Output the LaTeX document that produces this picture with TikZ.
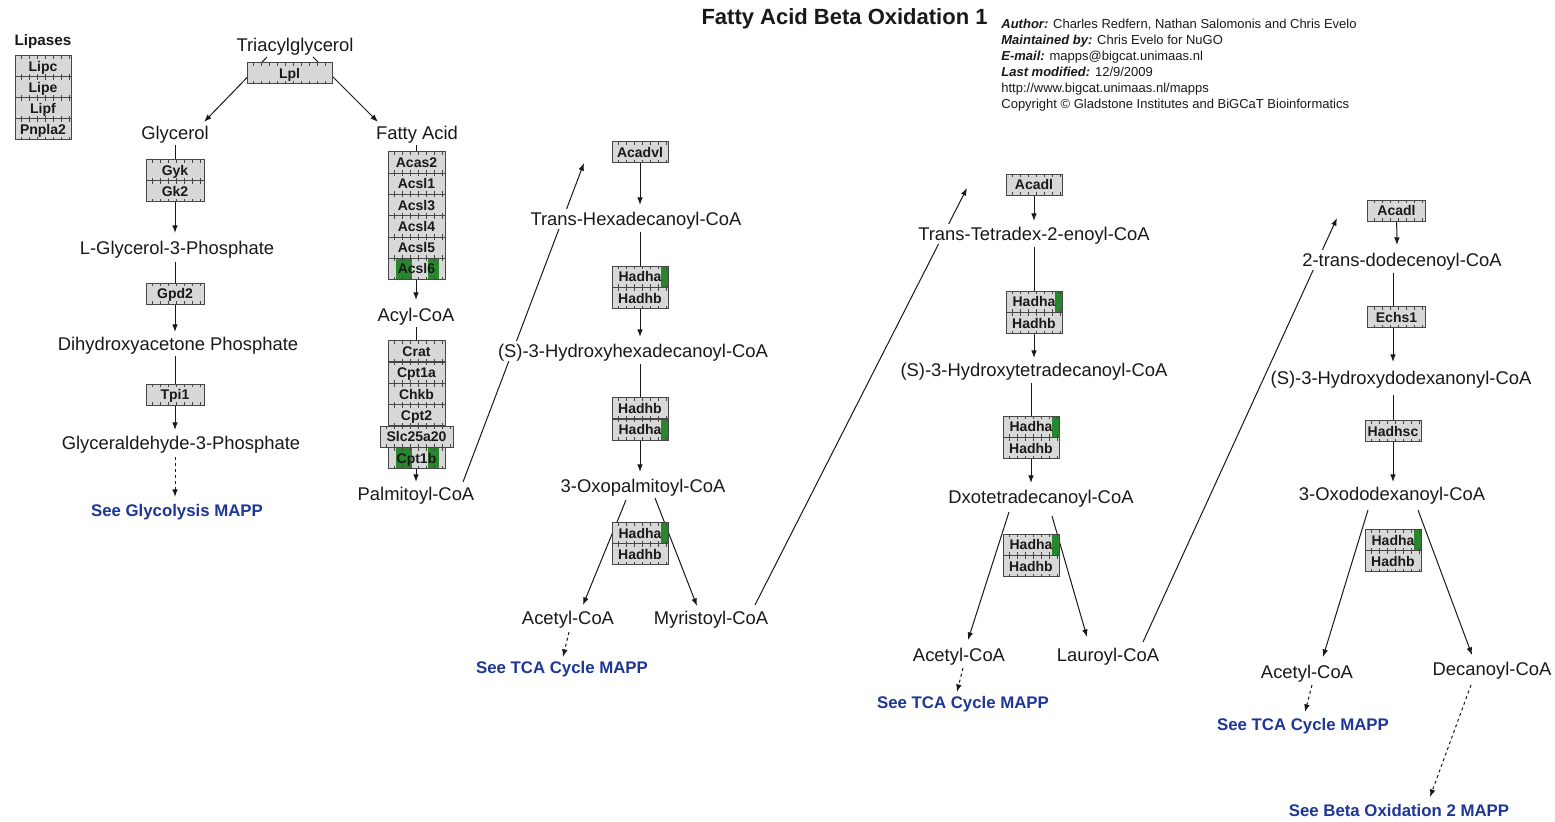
\documentclass[tikz,border=0pt]{standalone}
\usepackage{fontspec}
\setmainfont{Liberation Sans}
\usetikzlibrary{arrows.meta,calc}
\definecolor{boxfill}{RGB}{216,216,216}
\definecolor{boxline}{RGB}{70,70,70}
\definecolor{hgreen}{RGB}{40,135,45}
\definecolor{linkblue}{RGB}{30,55,150}
\definecolor{ink}{RGB}{25,25,25}
\pgfdeclarelayer{back}
\pgfdeclarelayer{bg}
\pgfsetlayers{back,bg,main}
\newcommand\geneticks{\draw[boxline, line width=3pt, dash pattern=on 0.5pt off 3.5pt, dash phase=1pt] (path picture bounding box.north west) -- (path picture bounding box.north east) (path picture bounding box.south west) -- (path picture bounding box.south east);}
\begin{document}
\begin{tikzpicture}[x=0.5pt,y=-0.5pt,
 met/.style={font=\fontsize{9.2}{11}\selectfont, text=ink, fill=white, inner xsep=1pt, inner ysep=1.5pt, text height=6.6pt, text depth=0pt},
 link/.style={font=\fontsize{8.4}{10}\selectfont\bfseries, text=linkblue, fill=white, inner xsep=1pt, inner ysep=1.5pt, text height=6pt, text depth=0pt},
 info/.style={font=\fontsize{6.5}{8}\selectfont, text=ink, inner sep=0pt, anchor=west, text height=4.7pt, text depth=0pt},
 gene/.style={draw=boxline, fill=boxfill, line width=0.5pt, minimum width=28pt, minimum height=10.5pt, inner sep=0pt, text height=5pt, text depth=0pt, font=\fontsize{7}{8}\selectfont\bfseries, text=ink, path picture={\geneticks}},
 gR/.style={path picture={\fill[hgreen] ([xshift=-3.5pt]path picture bounding box.north east) rectangle (path picture bounding box.south east); \geneticks}},
 gTwo/.style={path picture={\fill[hgreen] ([xshift=4pt]path picture bounding box.north west) rectangle ([xshift=12pt]path picture bounding box.south west); \fill[hgreen] ([xshift=20pt]path picture bounding box.north west) rectangle ([xshift=25.5pt]path picture bounding box.south west); \geneticks}},
 arr/.style={-{Latex[length=3.8pt,width=2.8pt]}, line width=0.5pt, draw=ink},
 dasharr/.style={arr, dash pattern=on 1.5pt off 1.5pt}
]
\begin{pgfonlayer}{back}
\fill[white] (0,0) rectangle (1555,822);
\end{pgfonlayer}
\useasboundingbox (0,0) rectangle (1555,822);

% header
\node[font=\fontsize{11}{13}\selectfont\bfseries, text=ink, anchor=east, inner sep=0pt] (title) at (988,19) {Fatty Acid Beta Oxidation 1};
\node[info] (i1) at (1001,24) {\textbf{\textit{Author:}} Charles Redfern, Nathan Salomonis and Chris Evelo};
\node[info] (i2) at (1001,40) {\textbf{\textit{Maintained by:}} Chris Evelo for NuGO};
\node[info] (i3) at (1001,56) {\textbf{\textit{E-mail:}} mapps@bigcat.unimaas.nl};
\node[info] (i4) at (1001,72) {\textbf{\textit{Last modified:}} 12/9/2009};
\node[info] (i5) at (1001,88) {http://www.bigcat.unimaas.nl/mapps};
\node[info] (i6) at (1001,104) {Copyright © Gladstone Institutes and BiGCaT Bioinformatics};

% lipases
\node[font=\fontsize{7.6}{9}\selectfont\bfseries, text=ink, inner sep=0pt] (lipases) at (43,42) {Lipases};
\node[gene] (lipc) at (43,66.5) {Lipc};
\node[gene] (lipe) at (43,87.5) {Lipe};
\node[gene] (lipf) at (43,108.5) {Lipf};
\node[gene] (pnpla2) at (43,129.5) {Pnpla2};

% metabolites
\node[met] (tag) at (295,45) {Triacylglycerol};
\node[met] (gly) at (175,133) {Glycerol};
\node[met] (fa) at (417,133) {Fatty Acid};
\node[met] (g3p) at (177,248) {L-Glycerol-3-Phosphate};
\node[met] (dhap) at (178,344) {Dihydroxyacetone Phosphate};
\node[met] (gap) at (181,443) {Glyceraldehyde-3-Phosphate};
\node[link] (seegly) at (177,511) {See Glycolysis MAPP};
\node[met] (acyl) at (416,315) {Acyl-CoA};
\node[met] (palm) at (416,494) {Palmitoyl-CoA};
\node[met] (thc) at (636,219) {Trans-Hexadecanoyl-CoA};
\node[met] (shhc) at (633,351) {(S)-3-Hydroxyhexadecanoyl-CoA};
\node[met] (oxop) at (643,486) {3-Oxopalmitoyl-CoA};
\node[met] (ac1) at (568,618) {Acetyl-CoA};
\node[met] (myr) at (711,618) {Myristoyl-CoA};
\node[link] (tca1) at (562,668) {See TCA Cycle MAPP};
\node[met] (ttec) at (1034,234) {Trans-Tetradex-2-enoyl-CoA};
\node[met] (shtd) at (1034,370) {(S)-3-Hydroxytetradecanoyl-CoA};
\node[met] (dxo) at (1041,497) {Dxotetradecanoyl-CoA};
\node[met] (ac2) at (959,655) {Acetyl-CoA};
\node[met] (lau) at (1108,655) {Lauroyl-CoA};
\node[link] (tca2) at (963,703) {See TCA Cycle MAPP};
\node[met] (tdd) at (1402,260) {2-trans-dodecenoyl-CoA};
\node[met] (shdd) at (1401,378) {(S)-3-Hydroxydodexanonyl-CoA};
\node[met] (oxdd) at (1392,494) {3-Oxododexanoyl-CoA};
\node[met] (ac3) at (1307,672) {Acetyl-CoA};
\node[met] (dec) at (1492,669) {Decanoyl-CoA};
\node[link] (tca3) at (1303,725) {See TCA Cycle MAPP};
\node[link] (beta2) at (1399,811) {See Beta Oxidation 2 MAPP};
\coordinate (nxt1) at (584,163);
\coordinate (nxt2) at (967,188);
\coordinate (nxt3) at (1337,218);

% genes
\node[gene, minimum width=42.5pt] (lpl) at (289.5,73.5) {Lpl};
\node[gene, minimum width=29pt] (gyk) at (175,170.5) {Gyk};
\node[gene, minimum width=29pt] (gk2) at (175,191.5) {Gk2};
\node[gene, minimum width=29pt] (gpd2) at (175,294) {Gpd2};
\node[gene, minimum width=29pt] (tpi1) at (175,395) {Tpi1};
\node[gene, minimum width=28.5pt, minimum height=10.65pt] (acas2) at (416.5,162.5) {Acas2};
\node[gene, minimum width=28.5pt, minimum height=10.65pt] (acsl1) at (416.5,183.8) {Acsl1};
\node[gene, minimum width=28.5pt, minimum height=10.65pt] (acsl3) at (416.5,205.1) {Acsl3};
\node[gene, minimum width=28.5pt, minimum height=10.65pt] (acsl4) at (416.5,226.4) {Acsl4};
\node[gene, minimum width=28.5pt, minimum height=10.65pt] (acsl5) at (416.5,247.7) {Acsl5};
\node[gene, gTwo, minimum width=28.5pt, minimum height=10.65pt] (acsl6) at (416.5,269) {Acsl6};
\node[gene, minimum width=28.5pt] (crat) at (416.5,351.5) {Crat};
\node[gene, minimum width=28.5pt] (cpt1a) at (416.5,373) {Cpt1a};
\node[gene, minimum width=28.5pt] (chkb) at (416.5,394.5) {Chkb};
\node[gene, minimum width=28.5pt] (cpt2) at (416.5,415.5) {Cpt2};
\node[gene, minimum width=36.5pt] (slc) at (416.5,437) {Slc25a20};
\node[gene, gTwo, minimum width=28.5pt] (cpt1b) at (416.5,458.5) {Cpt1b};
\node[gene] (acadvl) at (640,152.5) {Acadvl};
\node[gene, gR] (hadha1) at (640,277) {Hadha};
\node[gene] (hadhb1) at (640,298.5) {Hadhb};
\node[gene] (hadhb2) at (640,408.5) {Hadhb};
\node[gene, gR] (hadha2) at (640,430) {Hadha};
\node[gene, gR] (hadha3) at (640,533.5) {Hadha};
\node[gene] (hadhb3) at (640,554.5) {Hadhb};
\node[gene] (acadl1) at (1034,185) {Acadl};
\node[gene, gR] (hadha4) at (1034,302) {Hadha};
\node[gene] (hadhb4) at (1034,323.5) {Hadhb};
\node[gene, gR] (hadha5) at (1031,427) {Hadha};
\node[gene] (hadhb5) at (1031,448.5) {Hadhb};
\node[gene, gR] (hadha6) at (1031,545) {Hadha};
\node[gene] (hadhb6) at (1031,566.5) {Hadhb};
\node[gene, minimum width=29pt] (acadl2) at (1396.5,211) {Acadl};
\node[gene, minimum width=29pt] (echs1) at (1396.5,317.5) {Echs1};
\node[gene] (hadhsc) at (1393,431.5) {Hadhsc};
\node[gene, gR] (hadha7) at (1393,540.5) {Hadha};
\node[gene] (hadhb7) at (1393,561.5) {Hadhb};

% connectors
\begin{pgfonlayer}{bg}
\draw[arr] ($(tag)+(-28,12)$) -- ($(gly)+(29,-11)$);
\draw[arr] ($(tag)+(18,12)$) -- ($(fa)+(-39,-11)$);
\draw[arr] ($(gly)+(0,12)$) -- ($(g3p)+(-2,-15)$);
\draw[arr] ($(g3p)+(-2,14)$) -- ($(dhap)+(-3,-12)$);
\draw[arr] ($(dhap)+(-3,12)$) -- ($(gap)+(-6,-13)$);
\draw[dasharr] ($(gap)+(-6,14)$) -- ($(seegly)+(-2,-14)$);
\draw[arr] ($(fa)+(-1,12)$) -- ($(acyl)+(0,-15)$);
\draw[arr] ($(acyl)+(0,12)$) -- ($(palm)+(0,-12)$);
\draw[arr] ($(palm)+(47,-12)$) -- (nxt1);
\draw[arr] (acadvl) -- ($(thc)+(4,-14)$);
\draw[arr] ($(thc)+(4,13)$) -- ($(shhc)+(7,-14)$);
\draw[arr] ($(shhc)+(7,13)$) -- ($(oxop)+(-3,-14)$);
\draw[arr] ($(oxop)+(-17,14)$) -- ($(ac1)+(15,-13)$);
\draw[arr] ($(oxop)+(12,12)$) -- ($(myr)+(-14,-12)$);
\draw[dasharr] ($(ac1)+(1,14)$) -- ($(tca1)+(1,-11)$);
\draw[arr] ($(myr)+(44,-13)$) -- (nxt2);
\draw[arr] (acadl1) -- ($(ttec)+(0,-13)$);
\draw[arr] ($(ttec)+(0,13)$) -- ($(shtd)+(0,-12)$);
\draw[arr] ($(shtd)+(-3,13)$) -- ($(dxo)+(-10,-14)$);
\draw[arr] ($(dxo)+(-32,15)$) -- ($(ac2)+(9,-15)$);
\draw[arr] ($(dxo)+(11,19)$) -- ($(lau)+(-21,-18)$);
\draw[dasharr] ($(ac2)+(4,13)$) -- ($(tca2)+(-6,-11)$);
\draw[arr] ($(lau)+(35,-13)$) -- (nxt3);
\draw[arr] (acadl2) -- ($(tdd)+(-5,-15)$);
\draw[arr] ($(tdd)+(-9,13)$) -- ($(shdd)+(-8,-16)$);
\draw[arr] ($(shdd)+(-8,17)$) -- ($(oxdd)+(1,-12)$);
\draw[arr] ($(oxdd)+(-24,16)$) -- ($(ac3)+(16,-15)$);
\draw[arr] ($(oxdd)+(26,16)$) -- ($(dec)+(-20,-14)$);
\draw[dasharr] ($(ac3)+(5,13)$) -- ($(tca3)+(2,-13)$);
\draw[dasharr] ($(dec)+(-21,16)$) -- ($(beta2)+(31,-14)$);
\end{pgfonlayer}
\end{tikzpicture}
\end{document}
